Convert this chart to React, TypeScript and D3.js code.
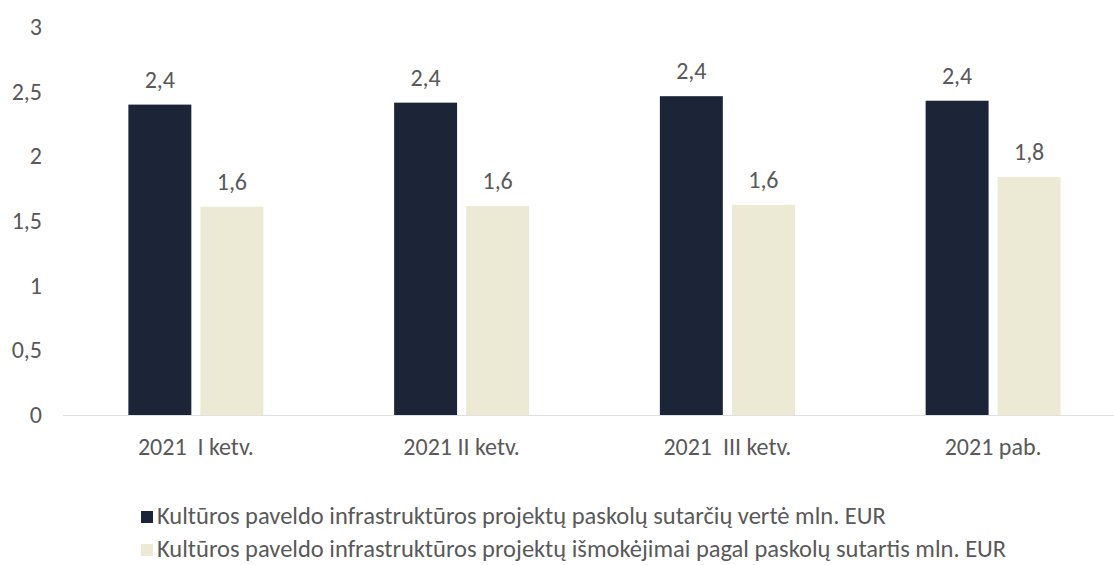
import React from "react";
import * as d3 from "d3";

const categories = ["2021  I ketv.", "2021 II ketv.", "2021  III ketv.", "2021 pab."];
const loanValues = [2.4, 2.415, 2.465, 2.43];
const payoutValues = [1.61, 1.617, 1.625, 1.84];
const loanLabels = ["2,4", "2,4", "2,4", "2,4"];
const payoutLabels = ["1,6", "1,6", "1,6", "1,8"];
const yTicks = [0, 0.5, 1, 1.5, 2, 2.5, 3];
const seriesNames = [
  "Kultūros paveldo infrastruktūros projektų paskolų sutarčių vertė mln. EUR",
  "Kultūros paveldo infrastruktūros projektų išmokėjimai pagal paskolų sutartis mln. EUR",
];
const colors = ["#1b2537", "#ecead4"];

const W = 1114;
const H = 565;
const FONT = "Carlito, Lato, 'Open Sans', sans-serif";
const TEXT = "#595959";
const FS = 24;

export default function App() {
  const x = d3.scaleBand<string>().domain(categories).range([63, 1126]).paddingInner(0).paddingOuter(0);
  const inner = d3.scaleBand<number>().domain([0, 1]).range([-67.5, 67.5]).paddingInner(17 / 135).paddingOuter(0);
  const y = d3.scaleLinear().domain([0, 3]).range([415, 27]);
  const fmt = (v: number) => String(v).replace(".", ",");
  const series = [
    { values: loanValues, labels: loanLabels },
    { values: payoutValues, labels: payoutLabels },
  ];

  return (
    <svg width={W} height={H} style={{ position: "absolute", left: 0, top: 0, background: "#fff" }} fontFamily={FONT}>
      {yTicks.map((t) => (
        <text key={t} x={42} y={y(t)} dy="0.33em" textAnchor="end" fontSize={FS} fill={TEXT}>
          {fmt(t)}
        </text>
      ))}
      <line x1={63} x2={W} y1={y(0) + 0.5} y2={y(0) + 0.5} stroke="#e0e0e0" strokeWidth={1} />
      {categories.map((c, i) => {
        const cx = (x(c) as number) + x.bandwidth() / 2;
        return (
          <g key={c}>
            {series.map((s, si) => {
              const bx = cx + (inner(si) as number);
              const top = y(s.values[i]);
              return (
                <g key={si}>
                  <rect x={bx} y={top} width={inner.bandwidth()} height={y(0) - top} fill={colors[si]} />
                  <text x={bx + inner.bandwidth() / 2} y={top - 17} textAnchor="middle" fontSize={FS} fill={TEXT}>
                    {s.labels[i]}
                  </text>
                </g>
              );
            })}
            <text x={cx} y={455} textAnchor="middle" fontSize={FS} fill={TEXT} style={{ whiteSpace: "pre" }}>
              {c}
            </text>
          </g>
        );
      })}
      {seriesNames.map((n, i) => (
        <g key={n} transform={`translate(141, ${524 + i * 33})`}>
          <rect x={0} y={-13} width={12} height={12} fill={colors[i]} />
          <text x={16} y={0} fontSize={24.5} fill={TEXT}>
            {n}
          </text>
        </g>
      ))}
    </svg>
  );
}
